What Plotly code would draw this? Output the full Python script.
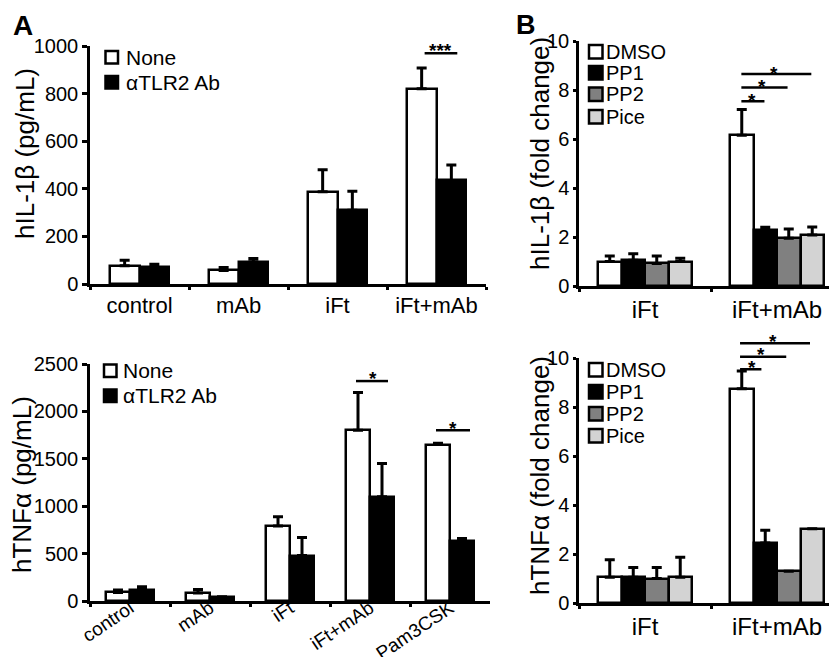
import plotly.graph_objects as go

# ---------------- data ----------------
cats_a1 = ["control", "mAb", "iFt", "iFt+mAb"]
il1b_none = [77, 57, 388, 820]
il1b_none_err = [23, 12, 92, 88]
il1b_tlr2 = [73, 93, 310, 435]
il1b_tlr2_err = [10, 14, 80, 65]

cats_a2 = ["control", "mAb", "iFt", "iFt+mAb", "Pam3CSK"]
tnf_none = [90, 85, 790, 1800, 1650]
tnf_none_err = [25, 35, 100, 400, 15]
tnf_tlr2 = [120, 40, 480, 1100, 635]
tnf_tlr2_err = [30, 4, 190, 350, 25]

a_series = ["None", "αTLR2 Ab"]
a_colors = ["white", "black"]

cats_b = ["iFt", "iFt+mAb"]
b_series = ["DMSO", "PP1", "PP2", "Pice"]
b_colors = ["white", "black", "#808080", "#d3d3d3"]
b_il1b = {
    "DMSO": [1.0, 6.15], "PP1": [1.05, 2.3], "PP2": [0.92, 1.95], "Pice": [1.0, 2.08]}
b_il1b_err = {
    "DMSO": [0.22, 1.05], "PP1": [0.27, 0.1], "PP2": [0.3, 0.38], "Pice": [0.13, 0.33]}
b_tnf = {
    "DMSO": [1.05, 8.75], "PP1": [1.05, 2.45], "PP2": [1.0, 1.3], "Pice": [1.05, 3.03]}
b_tnf_err = {
    "DMSO": [0.72, 0.72], "PP1": [0.4, 0.52], "PP2": [0.45, None], "Pice": [0.82, None]}

FONT = "Liberation Sans, Arial, sans-serif"
W, H = 837, 657

# panel pixel boxes: (left, right, top, bottom)
BOX = {
    "1": (82, 478, 38, 276),
    "3": (82, 482, 356, 593),
    "2": (571, 835, 33, 278),
    "4": (571, 835, 350, 595),
}


def dom_x(k):
    l, r, t, b = BOX[k]
    return [l / W, r / W]


def dom_y(k):
    l, r, t, b = BOX[k]
    return [1 - b / H, 1 - t / H]


def px(xp, yp):
    return xp / W, 1 - yp / H


fig = go.Figure()


def err(arr):
    return dict(type="data", symmetric=False, array=arr,
                arrayminus=[0 if v is not None else None for v in arr],
                thickness=3, width=5, color="black")


LW = 2.5
bw = 0.30
# Panel A top
fig.add_trace(go.Bar(x=cats_a1, y=il1b_none, name=a_series[0], width=bw, offset=-bw,
                     marker=dict(color=a_colors[0], line=dict(color="black", width=LW)),
                     error_y=err(il1b_none_err), xaxis="x", yaxis="y", showlegend=False))
fig.add_trace(go.Bar(x=cats_a1, y=il1b_tlr2, name=a_series[1], width=bw, offset=0,
                     marker=dict(color=a_colors[1], line=dict(color="black", width=LW)),
                     error_y=err(il1b_tlr2_err), xaxis="x", yaxis="y", showlegend=False))
# Panel A bottom
fig.add_trace(go.Bar(x=cats_a2, y=tnf_none, name=a_series[0], width=bw, offset=-bw,
                     marker=dict(color=a_colors[0], line=dict(color="black", width=LW)),
                     error_y=err(tnf_none_err), xaxis="x3", yaxis="y3", showlegend=False))
fig.add_trace(go.Bar(x=cats_a2, y=tnf_tlr2, name=a_series[1], width=bw, offset=0,
                     marker=dict(color=a_colors[1], line=dict(color="black", width=LW)),
                     error_y=err(tnf_tlr2_err), xaxis="x3", yaxis="y3", showlegend=False))

# Panel B
bwb = 0.178
for i, s in enumerate(b_series):
    off = -2 * bwb + i * bwb
    fig.add_trace(go.Bar(x=cats_b, y=b_il1b[s], name=s, width=bwb, offset=off,
                         marker=dict(color=b_colors[i], line=dict(color="black", width=LW)),
                         error_y=err(b_il1b_err[s]), xaxis="x2", yaxis="y2", showlegend=False))
    fig.add_trace(go.Bar(x=cats_b, y=b_tnf[s], name=s, width=bwb, offset=off,
                         marker=dict(color=b_colors[i], line=dict(color="black", width=LW)),
                         error_y=err(b_tnf_err[s]), xaxis="x4", yaxis="y4", showlegend=False))

axis_common = dict(showline=True, linewidth=2.5, linecolor="black", showgrid=False,
                   zeroline=False, ticks="outside", tickcolor="black", tickwidth=2.5,
                   automargin=False)
xcommon = dict(axis_common, type="category", tickson="boundaries", ticklen=3)


def tf(size):
    return dict(size=size, color="black", family=FONT)


fig.update_layout(
    template="none",
    width=W, height=H, margin=dict(l=0, r=0, t=0, b=0, autoexpand=False),
    paper_bgcolor="white", plot_bgcolor="white",
    font=dict(family=FONT, color="black"),
    barmode="group", bargap=0, bargroupgap=0,
    xaxis=dict(xcommon, domain=dom_x("1"), range=[-0.5, 3.5], anchor="y", tickfont=tf(22)),
    yaxis=dict(axis_common, domain=dom_y("1"), range=[0, 1000], dtick=200, ticklen=5,
               anchor="x", tickfont=tf(20)),
    xaxis3=dict(xcommon, domain=dom_x("3"), range=[-0.5, 4.5], anchor="y3",
                tickangle=-34, tickfont=tf(19), ticklabelstandoff=-14),
    yaxis3=dict(axis_common, domain=dom_y("3"), range=[0, 2500], dtick=500, ticklen=5,
                anchor="x3", tickfont=tf(20)),
    xaxis2=dict(xcommon, domain=dom_x("2"), range=[-0.5, 1.5], anchor="y2", tickfont=tf(24)),
    yaxis2=dict(axis_common, domain=dom_y("2"), range=[0, 10], dtick=2, ticklen=3,
                anchor="x2", tickfont=tf(20)),
    xaxis4=dict(xcommon, domain=dom_x("4"), range=[-0.5, 1.5], anchor="y4", tickfont=tf(24)),
    yaxis4=dict(axis_common, domain=dom_y("4"), range=[0, 10], dtick=2, ticklen=3,
                anchor="x4", tickfont=tf(20)),
)

# y-axis titles (rotated text)
for text, xc, yc in [("hIL-1β (pg/mL)", 17, 146), ("hTNFα (pg/mL)", 14, 477),
                     ("hIL-1β (fold change)", 532, 146), ("hTNFα (fold change)", 532, 468)]:
    xx, yy = px(xc, yc)
    fig.add_annotation(xref="paper", yref="paper", x=xx, y=yy, text=text, textangle=-90,
                       showarrow=False, xanchor="center", yanchor="middle", font=tf(26))


# legends (swatch + label)
def legend(names, colors, x0, size, tops, text_x, fsize):
    for n, c, t in zip(names, colors, tops):
        xa, ya = px(x0, t)
        xb, yb = px(x0 + size, t + size)
        fig.add_shape(type="rect", xref="paper", yref="paper", x0=xa, x1=xb, y0=yb, y1=ya,
                      fillcolor=c, line=dict(color="black", width=2.5))
        tx, ty = px(text_x, t + size / 2)
        fig.add_annotation(xref="paper", yref="paper", x=tx, y=ty, text=n, showarrow=False,
                           xanchor="left", yanchor="middle", font=tf(fsize))


legend(a_series, a_colors, 97.5, 12.5, [43, 68], 116, 21)
legend(a_series, a_colors, 96, 12.5, [356.5, 381.5], 113, 21)
legend(b_series, b_colors, 581, 13.5, [37, 58, 79.5, 102], 596, 20)
legend(b_series, b_colors, 581, 13.5, [355, 377, 399, 421], 596, 20)


# significance markers
def sig(k, cat, x0, x1, yv, stars, sx, sv, ymax):
    xa = "x" if k == "1" else "x" + k
    ya = "y" if k == "1" else "y" + k
    l, r, t, b = BOX[k]
    ph = b - t
    fig.add_shape(type="line", xref=xa, yref=ya + " domain", x0=cat + x0, x1=cat + x1,
                  y0=yv / ymax, y1=yv / ymax, line=dict(color="black", width=2.5))
    fig.add_annotation(xref=xa, yref=ya + " domain", x=cat + sx, y=sv / ymax - 5 / ph,
                       text="<b>" + stars + "</b>", showarrow=False, font=tf(19),
                       yanchor="middle")


sig("1", 3, -0.12, 0.21, 970, "***", 0.045, 1002, 1000)
sig("3", 3, -0.175, 0.225, 2320, "*", 0.04, 2405, 2500)
sig("3", 4, -0.175, 0.25, 1800, "*", 0.04, 1877, 2500)
for x1, yv, sx, sv in [(-0.095, 7.54, -0.19, 7.78), (0.08, 8.1, -0.11, 8.35), (0.26, 8.65, -0.02, 8.87)]:
    sig("2", 1, -0.27, x1, yv, "*", sx, sv, 10)
for x1, yv, sx, sv in [(-0.118, 9.54, -0.19, 9.81), (0.07, 10.05, -0.12, 10.35), (0.25, 10.6, -0.03, 10.86)]:
    sig("4", 1, -0.28, x1, yv, "*", sx, sv, 10)

# panel letters
fig.add_annotation(xref="paper", yref="paper", x=3 / W, y=1, text="<b>A</b>",
                   showarrow=False, xanchor="left", yanchor="top", font=tf(28))
fig.add_annotation(xref="paper", yref="paper", x=506 / W, y=1, text="<b>B</b>",
                   showarrow=False, xanchor="left", yanchor="top", font=tf(27))

fig.write_html("out.html")
